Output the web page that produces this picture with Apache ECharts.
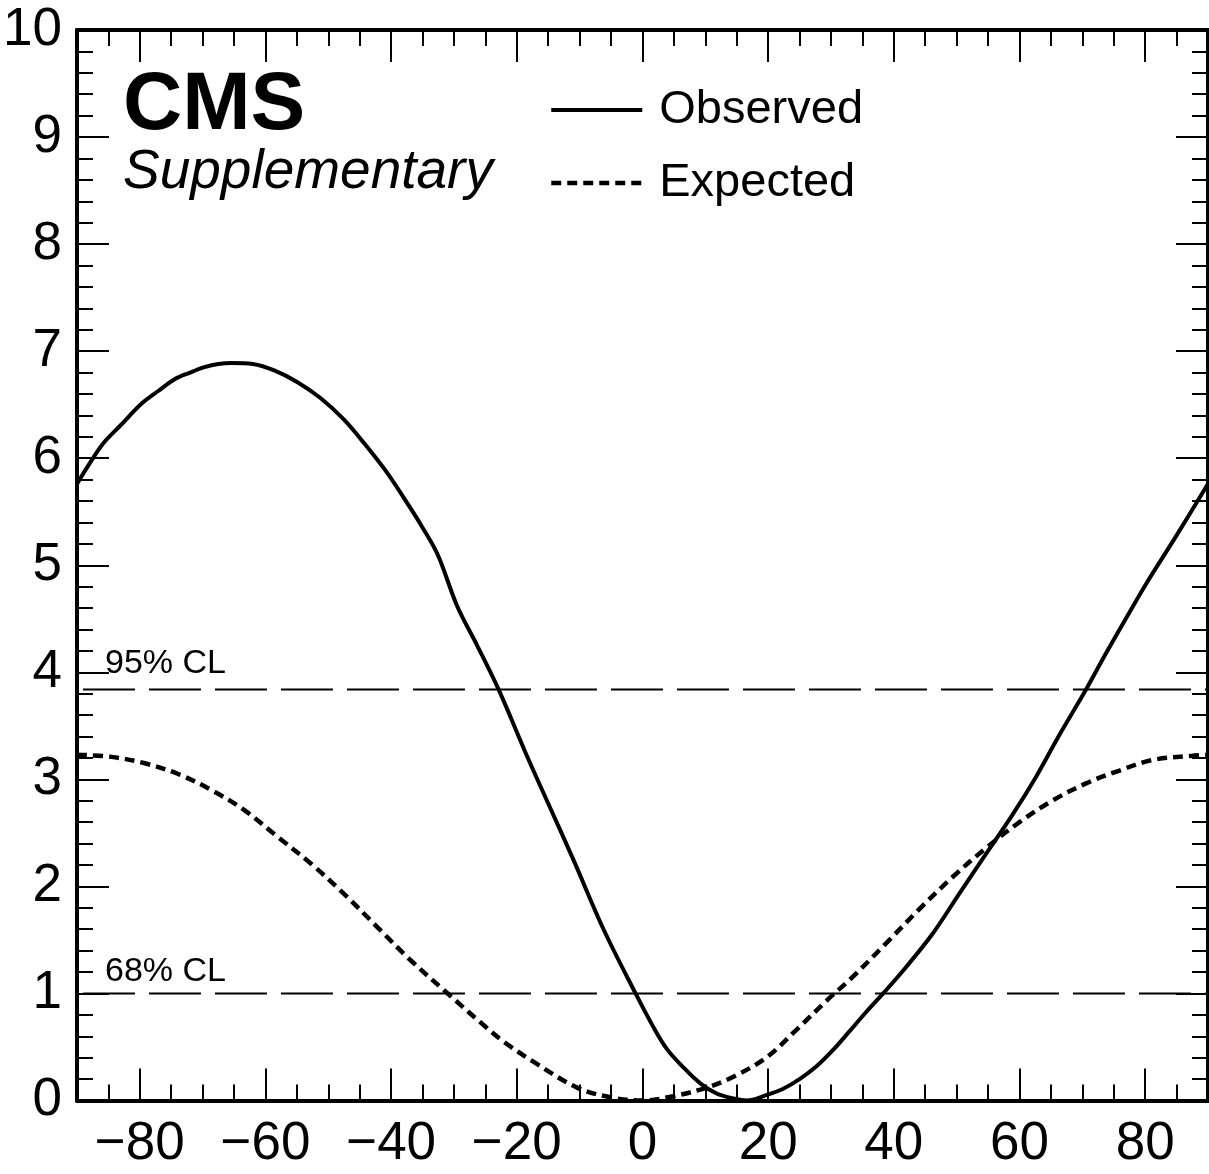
<!DOCTYPE html>
<html>
<head>
<meta charset="utf-8">
<script src="https://cdn.jsdelivr.net/npm/echarts@6/dist/echarts.min.js"></script>
<style>html,body{margin:0;padding:0;background:#fff}#c{width:1209px;height:1174px}</style>
</head>
<body>
<div id="c"></div>
<script>
// ---- data ----
const observedX = [-90, -88, -85.8, -83, -79.7, -77, -74.4, -72, -69.7, -67.5, -65.4, -62, -58.6, -54.9, -51.2, -47.5, -44.3, -40.6, -37, -35.3, -32.6, -29.5, -26.3, -22.9, -18.4, -15.2, -11.0, -6.2, -1.1, 1.7, 3.9, 6.5, 9.2, 11.8, 14.4, 16.6, 19.7, 22.4, 25, 27.7, 30.3, 33, 35.5, 38.3, 42, 46.2, 50.4, 54.4, 58.9, 62.6, 66.3, 70.5, 73.7, 77.4, 80.5, 84.8, 90];
const observedY = [5.76, 5.95, 6.14, 6.31, 6.51, 6.63, 6.74, 6.80, 6.85, 6.88, 6.89, 6.88, 6.82, 6.71, 6.56, 6.36, 6.14, 5.86, 5.54, 5.38, 5.10, 4.62, 4.25, 3.84, 3.22, 2.80, 2.25, 1.60, 1.00, 0.69, 0.48, 0.31, 0.16, 0.065, 0.02, 0.0, 0.05, 0.11, 0.20, 0.32, 0.47, 0.65, 0.82, 1.00, 1.25, 1.56, 1.93, 2.28, 2.67, 3.02, 3.41, 3.83, 4.17, 4.55, 4.86, 5.26, 5.76];
const expectedX = [-90, -84.5, -79.2, -73.9, -68.6, -63.3, -58, -52.7, -47.5, -42.2, -36.9, -31, -25.2, -22.1, -17.3, -10.4, -5.1, 0, 4.9, 10.2, 14.4, 19.7, 24.5, 29.8, 33.2, 38.8, 44.1, 49.4, 54.7, 60, 65.2, 70.5, 75.8, 81.1, 87.5, 90];
const expectedY = [3.23, 3.21, 3.15, 3.05, 2.90, 2.71, 2.46, 2.21, 1.93, 1.62, 1.31, 1.00, 0.70, 0.55, 0.36, 0.12, 0.03, 0.0, 0.04, 0.12, 0.22, 0.40, 0.66, 0.96, 1.14, 1.47, 1.79, 2.09, 2.36, 2.60, 2.80, 2.96, 3.08, 3.18, 3.22, 3.23];
const clLevels = [3.84, 1.0];
const clLabels = ['95% CL', '68% CL'];
const seriesNames = ['Observed', 'Expected'];
const xRange = [-90, 90];
const yRange = [0, 10];

const FONT = '"Liberation Sans", Arial, Helvetica, sans-serif';
const zip = (xs, ys) => xs.map((x, i) => [x, ys[i]]);
const minusFmt = v => (v < 0 ? '\u2212' + Math.abs(v) : String(v));

const chart = echarts.init(document.getElementById('c'), null, { renderer: 'canvas' });

const frameLine = { show: true, onZero: false, lineStyle: { color: '#000', width: 4 } };
const noLine = { show: false, onZero: false };
const majorTick = { show: true, inside: true, length: 32, lineStyle: { color: '#000', width: 2 } };
const minorTickStyle = { show: true, inside: true, length: 16, lineStyle: { color: '#000', width: 2 } };
const obsStyle = { color: '#000', width: 4, type: 'solid' };
const expStyle = { color: '#000', width: 4.5, type: [10, 6] };

const option = {
  animation: false,
  backgroundColor: '#fff',
  grid: { left: 76, right: 1, top: 30, bottom: 73.5, containLabel: false },
  xAxis: [
    { type: 'value', position: 'bottom', min: xRange[0], max: xRange[1], splitNumber: 9,
      axisLine: frameLine, axisTick: majorTick, splitLine: { show: false },
      axisLabel: { show: true, formatter: minusFmt, fontSize: 53, fontFamily: FONT, color: '#000', margin: 17,
                   showMinLabel: false, showMaxLabel: false } },
    { type: 'value', position: 'bottom', min: xRange[0], max: xRange[1], interval: 5,
      axisLine: noLine, axisTick: minorTickStyle, splitLine: { show: false }, axisLabel: { show: false } },
    { type: 'value', position: 'top', min: xRange[0], max: xRange[1], splitNumber: 9,
      axisLine: frameLine, axisTick: majorTick, splitLine: { show: false }, axisLabel: { show: false } },
    { type: 'value', position: 'top', min: xRange[0], max: xRange[1], interval: 5,
      axisLine: noLine, axisTick: minorTickStyle, splitLine: { show: false }, axisLabel: { show: false } }
  ],
  yAxis: [
    { type: 'value', position: 'left', min: yRange[0], max: yRange[1], interval: 1,
      axisLine: frameLine, axisTick: majorTick, splitLine: { show: false },
      minorTick: { show: true, splitNumber: 5, length: 16, lineStyle: { color: '#000', width: 2 } },
      minorSplitLine: { show: false },
      axisLabel: { show: true, fontSize: 53, fontFamily: FONT, color: '#000', margin: 15 } },
    { type: 'value', position: 'right', min: yRange[0], max: yRange[1], interval: 1,
      axisLine: frameLine, axisTick: majorTick, splitLine: { show: false },
      minorTick: { show: true, splitNumber: 5, length: 16, lineStyle: { color: '#000', width: 2 } },
      minorSplitLine: { show: false },
      axisLabel: { show: false } }
  ],
  legend: {
    data: [
      { name: seriesNames[0], lineStyle: obsStyle, itemStyle: { opacity: 0 } },
      { name: seriesNames[1], lineStyle: expStyle, itemStyle: { opacity: 0 } }
    ],
    orient: 'vertical',
    left: 549, top: 86,
    padding: 0,
    itemWidth: 91, itemHeight: 20, itemGap: 25,
    itemStyle: { opacity: 0, borderWidth: 0 },
    textStyle: { fontSize: 47, fontFamily: FONT, color: '#000', lineHeight: 48, padding: [0, 0, 0, 12] },
    selectedMode: false
  },
  series: [
    { name: seriesNames[0], type: 'line', xAxisIndex: 0, yAxisIndex: 0, data: zip(observedX, observedY),
      showSymbol: false, symbol: 'none', smooth: 0.35, clip: true,
      lineStyle: obsStyle, itemStyle: { color: '#000' }, z: 5 },
    { name: seriesNames[1], type: 'line', xAxisIndex: 0, yAxisIndex: 0, data: zip(expectedX, expectedY),
      showSymbol: false, symbol: 'none', smooth: 0.35, clip: true,
      lineStyle: expStyle, itemStyle: { color: '#000' }, z: 4 }
  ].concat(clLevels.map((lvl, i) => ({
      name: clLabels[i], type: 'line', xAxisIndex: 0, yAxisIndex: 0,
      data: [[xRange[0], lvl], [xRange[1], lvl]],
      showSymbol: false, symbol: 'none', silent: true,
      lineStyle: { color: '#000', width: 2, type: [52, 14], dashOffset: -6 }, z: 3
  })))
};
chart.setOption(option);

// Texts (CMS label and CL annotations)
const graphics = [
  { type: 'text', x: 123, y: 106, style: { text: 'CMS', font: 'bold 82px ' + FONT, fill: '#000', verticalAlign: 'middle', align: 'left' } },
  { type: 'text', x: 123, y: 173, style: { text: 'Supplementary', font: 'italic 55px ' + FONT, fill: '#000', verticalAlign: 'middle', align: 'left' } }
];
const clOffsets = [26, 22];
clLevels.forEach((lvl, i) => {
  const p = chart.convertToPixel({ xAxisIndex: 0, yAxisIndex: 0 }, [xRange[0], lvl]);
  graphics.push({ type: 'text', x: 105, y: p[1] - clOffsets[i],
    style: { text: clLabels[i], font: '34px ' + FONT, fill: '#000', verticalAlign: 'middle', align: 'left' } });
});
chart.setOption({ graphic: graphics });
</script>
</body>
</html>
